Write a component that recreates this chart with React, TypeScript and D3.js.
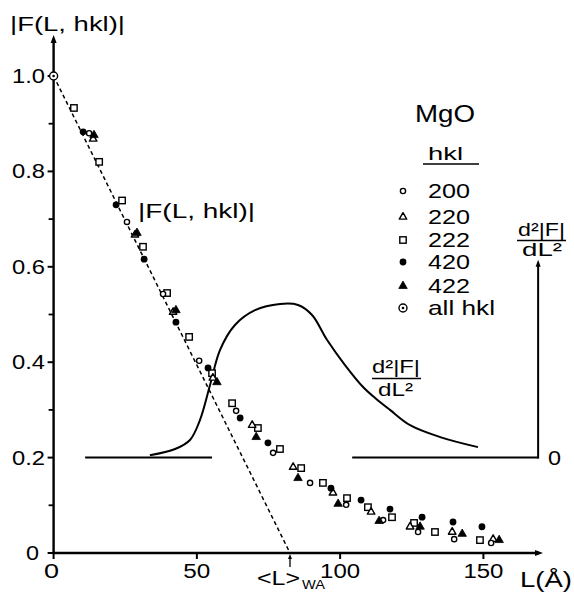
import React from "react";
import * as d3 from "d3";

// ---- data (L in Å, |F| value) ----
const hkl200: [number, number][] = [
  [12.4, 0.88], [25.6, 0.694], [38.2, 0.543], [50.8, 0.403], [63.7, 0.298], [76.6, 0.21],
  [89.5, 0.147], [102.1, 0.101], [115.0, 0.069], [127.2, 0.044], [139.8, 0.029], [152.7, 0.021],
];
const hkl220: [number, number][] = [
  [13.8, 0.868], [28.4, 0.667], [41.7, 0.505], [55.6, 0.367], [69.3, 0.268], [83.6, 0.18],
  [97.5, 0.126], [110.8, 0.086], [124.4, 0.055], [139.1, 0.044], [153.4, 0.029],
];
const hkl222: [number, number][] = [
  [7.1, 0.933], [15.9, 0.82], [23.9, 0.739], [31.2, 0.642], [39.6, 0.545], [47.3, 0.453],
  [55.3, 0.377], [62.3, 0.314], [71.3, 0.262], [79.0, 0.218], [86.4, 0.178], [94.0, 0.147],
  [102.4, 0.115], [109.7, 0.096], [118.1, 0.075], [125.8, 0.063], [133.1, 0.044], [148.8, 0.027],
];
const hkl420: [number, number][] = [
  [10.3, 0.883], [21.8, 0.73], [31.6, 0.616], [42.7, 0.484], [53.9, 0.388], [65.1, 0.283],
  [74.8, 0.231], [96.8, 0.136], [107.3, 0.111], [117.4, 0.092], [128.6, 0.075], [139.4, 0.065],
  [149.5, 0.055],
];
const hkl422: [number, number][] = [
  [14.1, 0.876], [29.1, 0.671], [42.7, 0.509], [57.0, 0.358], [70.7, 0.243], [85.3, 0.157],
  [99.3, 0.103], [113.6, 0.067], [127.9, 0.055], [142.6, 0.04], [155.5, 0.027],
];
const allHkl: [number, number][] = [[0, 1.0]];

// dashed tangent line: |F| from 1 at L=0 to 0 at <L>WA
const tangentLine: [number, number][] = [[0, 1.0], [82.5, 0]];

// second derivative curve (plotted in the |F| frame, baseline at 0.2)
const d2Curve: [number, number][] = [
  [33.6, 0.205], [42.4, 0.218], [47.6, 0.237], [51.1, 0.279], [54.6, 0.352], [58.1, 0.426],
  [63.3, 0.478], [70.3, 0.509], [79.0, 0.522], [85.3, 0.52], [90.2, 0.499], [95.4, 0.447],
  [101.7, 0.394], [108.0, 0.348], [112.2, 0.325], [117.4, 0.3], [124.4, 0.268], [134.9, 0.243],
  [148.1, 0.222],
];
const d2Baseline = 0.2;
const d2BaselineLeft: [number, number] = [11.0, 55.3];
const d2BaselineRight: [number, number] = [104.2, 169.1];
const d2AxisTop = 0.615;

const xTicks = [0, 50, 100, 150];
const xTickLabels = ["0", "50", "100", "150"];
const yMajor = [0, 0.2, 0.4, 0.6, 0.8, 1.0];
const yTickLabels = ["0", "0.2", "0.4", "0.6", "0.8", "1.0"];
const yMinor = [0.1, 0.3, 0.5, 0.7, 0.9];
const legendLabels = ["200", "220", "222", "420", "422", "all hkl"];
const legendTypes = ["oc", "ot", "os", "fc", "ft", "all"];

const FONT = "'Liberation Sans', Arial, Helvetica, sans-serif";

function Marker({ type, x, y }: { type: string; x: number; y: number }) {
  const sw = 1.4;
  if (type === "oc") return <circle cx={x} cy={y} r={2.6} fill="white" stroke="black" strokeWidth={sw} />;
  if (type === "fc") return <circle cx={x} cy={y} r={3.4} fill="black" />;
  if (type === "os")
    return <rect x={x - 3.2} y={y - 3.2} width={6.4} height={6.4} fill="white" stroke="black" strokeWidth={sw} />;
  if (type === "ot" || type === "ft") {
    const s = type === "ot" ? 7.5 : 8.5;
    const h = s * 0.866;
    const pts = `${x},${y - (2 * h) / 3} ${x - s / 2},${y + h / 3} ${x + s / 2},${y + h / 3}`;
    return type === "ot" ? (
      <polygon points={pts} fill="white" stroke="black" strokeWidth={sw} strokeLinejoin="round" />
    ) : (
      <polygon points={pts} fill="black" stroke="black" strokeWidth={0.8} />
    );
  }
  // all hkl
  return (
    <g>
      <circle cx={x} cy={y} r={4} fill="white" stroke="black" strokeWidth={sw} />
      <circle cx={x} cy={y} r={1.3} fill="black" />
    </g>
  );
}

function T({ x, y, w, size, children, anchor = "start" }: any) {
  return (
    <text
      x={x}
      y={y}
      fontSize={size}
      fontFamily={FONT}
      textAnchor={anchor}
      textLength={w}
      lengthAdjust="spacingAndGlyphs"
      fill="black"
    >
      {children}
    </text>
  );
}

export default function App() {
  const x = d3.scaleLinear().domain([0, 150]).range([53.6, 483.4]);
  const y = d3.scaleLinear().domain([0, 1]).range([553, 76]);
  const x0 = x(0);
  const y0 = y(0);
  const line = d3.line<[number, number]>().x((d) => x(d[0])).y((d) => y(d[1]));
  const curve = d3
    .line<[number, number]>()
    .x((d) => x(d[0]))
    .y((d) => y(d[1]))
    .curve(d3.curveCatmullRom.alpha(0.5));

  const series: [string, [number, number][]][] = [
    ["os", hkl222],
    ["ot", hkl220],
    ["oc", hkl200],
    ["ft", hkl422],
    ["fc", hkl420],
    ["all", allHkl],
  ];

  const yAxisTop = 35;
  const xAxisEnd = 543;
  const d2x = x(d2BaselineRight[1]);
  const d2Top = y(d2AxisTop);

  const legendY = [191, 217, 240, 262, 286, 308];

  return (
    <svg width={574} height={592} style={{ position: "absolute", left: 0, top: 0, background: "white" }}>
      <rect width={574} height={592} fill="white" />
      {/* axes */}
      <line x1={x0} y1={y0} x2={x0} y2={yAxisTop + 4} stroke="black" strokeWidth={2.4} />
      <polygon points={`${x0},${yAxisTop} ${x0 - 3},${yAxisTop + 8} ${x0 + 3},${yAxisTop + 8}`} fill="black" />
      <line x1={x0 - 1.2} y1={y0} x2={xAxisEnd - 4} y2={y0} stroke="black" strokeWidth={2.4} />
      <polygon points={`${xAxisEnd},${y0} ${xAxisEnd - 8},${y0 - 3} ${xAxisEnd - 8},${y0 + 3}`} fill="black" />
      {yMajor.map((v) => (
        <line key={"ym" + v} x1={x0 - 6} x2={x0} y1={y(v)} y2={y(v)} stroke="black" strokeWidth={2} />
      ))}
      {yMinor.map((v) => (
        <line key={"yn" + v} x1={x0 - 5} x2={x0} y1={y(v)} y2={y(v)} stroke="black" strokeWidth={1.8} />
      ))}
      {xTicks.map((v) => (
        <line key={"xt" + v} x1={x(v)} x2={x(v)} y1={y0} y2={y0 + 6} stroke="black" strokeWidth={2} />
      ))}
      {yMajor.map((v, i) =>
        v === 0 ? (
          <T key={"yl" + v} x={39} y={y(v) + 7} w={13} size={20} anchor="end">
            {yTickLabels[i]}
          </T>
        ) : (
          <T key={"yl" + v} x={45} y={y(v) + 7} w={33} size={20} anchor="end">
            {yTickLabels[i]}
          </T>
        )
      )}
      {xTicks.map((v, i) => (
        <T key={"xl" + v} x={x(v) - (v === 0 ? 2 : 0)} y={578} w={v === 0 ? 15 : v === 50 ? 27 : 40} size={20} anchor="middle">
          {xTickLabels[i]}
        </T>
      ))}
      <T x={10} y={31} w={115} size={21}>|F(L, hkl)|</T>
      <T x={520} y={587} w={52} size={22}>L(Å)</T>

      {/* <L>WA marker */}
      <line x1={x(82.5)} y1={567} x2={x(82.5)} y2={557} stroke="black" strokeWidth={1.3} />
      <polygon points={`${x(82.5)},${y0 + 1} ${x(82.5) - 2},${y0 + 6} ${x(82.5) + 2},${y0 + 6}`} fill="black" />
      <T x={257} y={585} w={43} size={20}>{"<L>"}</T>
      <T x={302} y={589} w={23} size={12}>WA</T>

      {/* dashed tangent */}
      <path d={line(tangentLine) || ""} fill="none" stroke="black" strokeWidth={1.5} strokeDasharray="4,3" />

      {/* second derivative */}
      <line x1={x(d2BaselineLeft[0])} x2={x(d2BaselineLeft[1])} y1={y(d2Baseline)} y2={y(d2Baseline)} stroke="black" strokeWidth={2} />
      <line x1={x(d2BaselineRight[0])} x2={d2x} y1={y(d2Baseline)} y2={y(d2Baseline)} stroke="black" strokeWidth={2} />
      <line x1={d2x} x2={d2x} y1={y(d2Baseline) + 1} y2={d2Top + 4} stroke="black" strokeWidth={2} />
      <polygon points={`${d2x},${d2Top} ${d2x - 2.5},${d2Top + 7} ${d2x + 2.5},${d2Top + 7}`} fill="black" />
      <T x={548} y={y(d2Baseline) + 7} w={13} size={20}>0</T>
      <path d={curve(d2Curve) || ""} fill="none" stroke="black" strokeWidth={2} />

      {/* labels for d2 */}
      <T x={518} y={236} w={47} size={19}>d²|F|</T>
      <line x1={517} x2={566} y1={240.5} y2={240.5} stroke="black" strokeWidth={1.5} />
      <T x={522} y={256} w={40} size={19}>dL²</T>

      <T x={372} y={373} w={48} size={19}>d²|F|</T>
      <line x1={372} x2={421} y1={378.5} y2={378.5} stroke="black" strokeWidth={1.5} />
      <T x={378} y={396} w={35} size={19}>dL²</T>

      <T x={138} y={218} w={117} size={21}>|F(L, hkl)|</T>

      {/* data */}
      {series.map(([t, pts]) =>
        pts.map((p, i) => <Marker key={t + i} type={t} x={x(p[0])} y={y(p[1])} />)
      )}

      {/* legend */}
      <T x={415} y={122} w={60} size={23}>MgO</T>
      <T x={428} y={160} w={35} size={19}>hkl</T>
      <line x1={423} x2={479} y1={164} y2={164} stroke="black" strokeWidth={1.6} />
      {legendLabels.map((lab, i) => (
        <g key={lab}>
          <Marker type={legendTypes[i]} x={403} y={legendY[i]} />
          <T x={428} y={legendY[i] + 7} w={lab === "all hkl" ? 67 : 42} size={21}>
            {lab}
          </T>
        </g>
      ))}
    </svg>
  );
}
